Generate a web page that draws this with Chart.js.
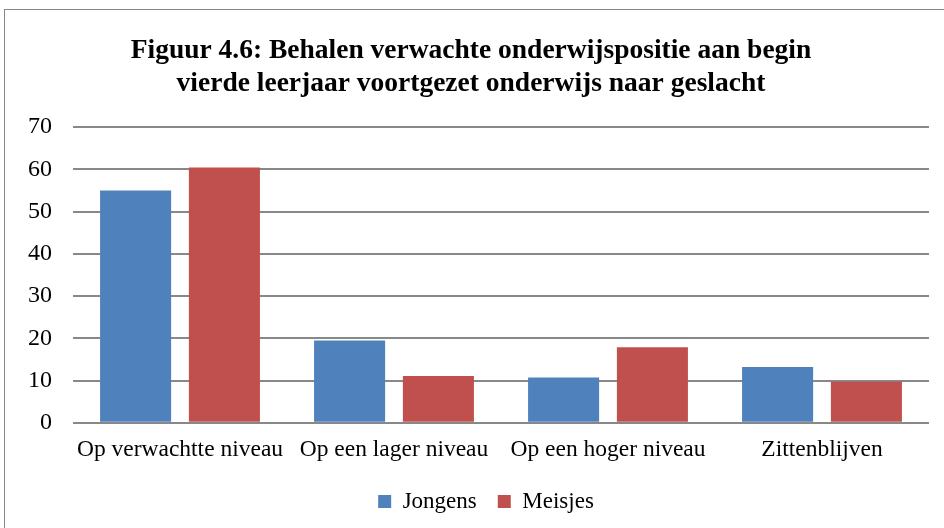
<!DOCTYPE html>
<html>
<head>
<meta charset="utf-8">
<script src="https://cdn.jsdelivr.net/npm/chart.js@4.4.1/dist/chart.umd.min.js"></script>
<style>
  html, body { margin: 0; padding: 0; background: #fff; overflow: hidden; }
  #frame { position: absolute; left: 4px; top: 9px; width: 950px; height: 530px; border: 1px solid #878787; box-sizing: border-box; }
  #wrap { position: absolute; left: 0; top: 0; width: 940px; height: 519px; }
</style>
</head>
<body>
<div id="frame"><div id="wrap"><canvas id="chart"></canvas></div></div>
<script>
// --- Data ---
const categories = ['Op verwachtte niveau', 'Op een lager niveau', 'Op een hoger niveau', 'Zittenblijven'];
const jongens = [55, 19.5, 10.7, 13.2];
const meisjes = [60.4, 11.1, 17.9, 9.7];
const yTicks = [0, 10, 20, 30, 40, 50, 60, 70];

const serif = "'Liberation Serif', 'Times New Roman', serif";
Chart.defaults.font.family = serif;
Chart.defaults.color = '#000';

// shift title/legend drawing a little to the right, like the Excel original
function shiftBox(chart, box, dx) {
    if (!box || box._shifted) return;
    const orig = box.draw.bind(box);
    box.draw = (area) => {
        chart.ctx.save();
        chart.ctx.translate(dx, 0);
        orig(area);
        chart.ctx.restore();
    };
    box._shifted = true;
}
const nudge = {
    id: 'nudge',
    afterLayout(chart) {
        shiftBox(chart, chart.legend, 18);
        shiftBox(chart, chart.titleBlock, 3);
    }
};

new Chart(document.getElementById('chart').getContext('2d'), {
    type: 'bar',
    data: {
        labels: categories,
        datasets: [
            { label: 'Jongens', data: jongens, backgroundColor: '#4f81bd', barPercentage: 0.8, categoryPercentage: 0.83 },
            { label: 'Meisjes', data: meisjes, backgroundColor: '#c0504d', barPercentage: 0.8, categoryPercentage: 0.83 }
        ]
    },
    options: {
        responsive: true, maintainAspectRatio: false, animation: false,
        layout: { padding: { left: 2, right: 16, top: 10, bottom: 6 } },
        plugins: {
            title: {
                display: true,
                text: ['Figuur 4.6: Behalen verwachte onderwijspositie aan begin', 'vierde leerjaar voortgezet onderwijs naar geslacht'],
                font: { size: 27.5, weight: 'bold', family: serif, lineHeight: 1.2 },
                color: '#000',
                padding: { top: 14, bottom: 27 }
            },
            legend: {
                position: 'bottom',
                labels: { boxWidth: 13, boxHeight: 13, padding: 21, font: { size: 23 }, color: '#000' }
            },
            tooltip: { enabled: false }
        },
        scales: {
            x: {
                grid: { display: false },
                border: { display: false },
                ticks: { font: { size: 23.5 }, color: '#000', padding: 5, maxRotation: 0, autoSkip: false }
            },
            y: {
                min: 0, max: 70,
                afterBuildTicks: (axis) => { axis.ticks = yTicks.map(v => ({ value: v })); },
                grid: { color: '#888888', lineWidth: 2, drawTicks: false },
                border: { display: false },
                ticks: { font: { size: 24 }, color: '#000', padding: 21 }
            }
        }
    },
    plugins: [nudge]
});
</script>
</body>
</html>
